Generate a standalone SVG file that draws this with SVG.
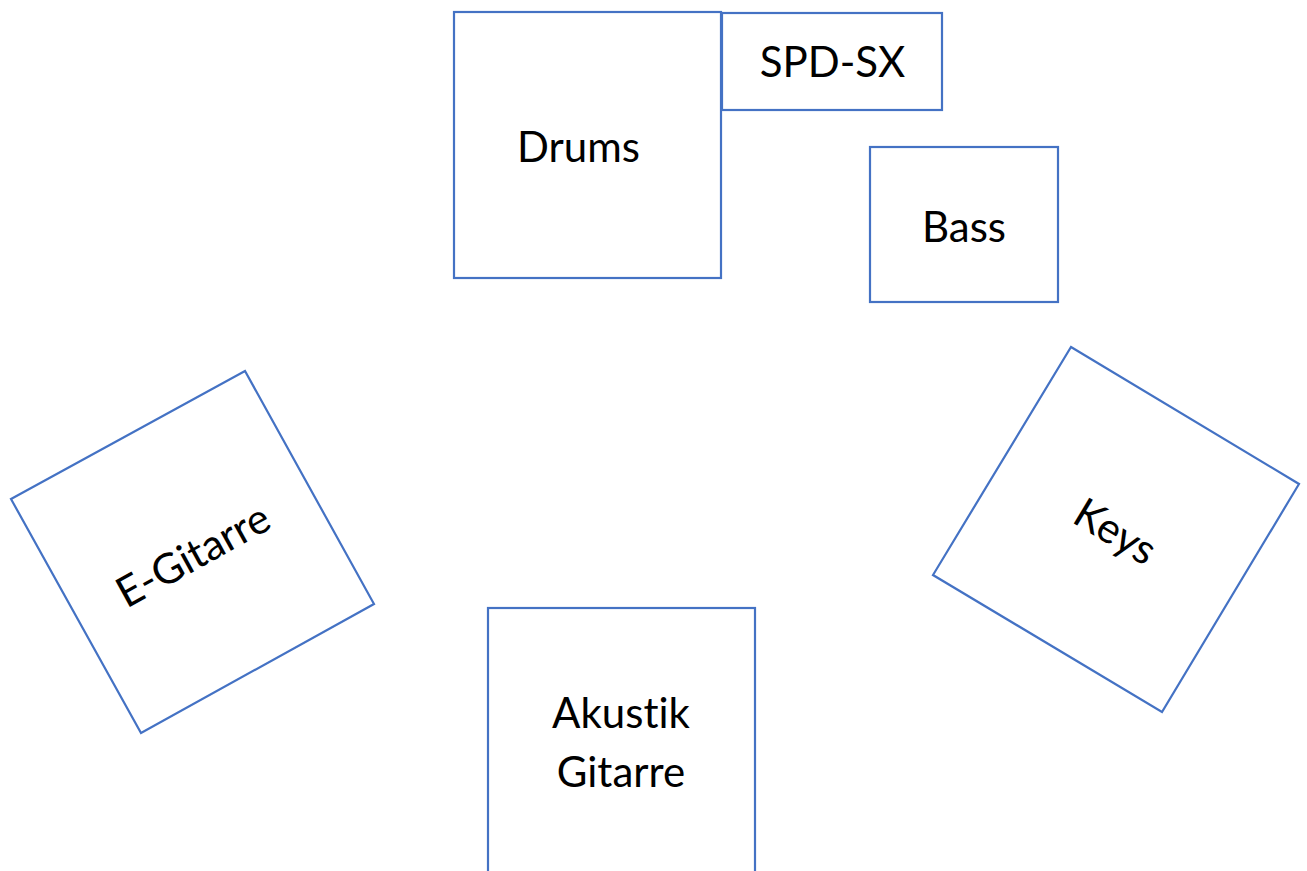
<svg xmlns="http://www.w3.org/2000/svg" width="1307" height="871" viewBox="0 0 1307 871">
<style>
.box{fill:#fff;stroke:#4472C4;stroke-width:2.2}
.lbl{font-family:Lato,"Open Sans",sans-serif;font-size:42px;fill:#000;text-anchor:middle;font-variant-ligatures:none;font-feature-settings:"liga" 0}
</style>
<rect width="1307" height="871" fill="#fff"/>
<g id="drums"><rect class="box" x="454" y="12" width="267" height="266"/><text class="lbl" x="578.5" y="162">Drums</text></g>
<g id="spdsx"><rect class="box" x="722" y="13" width="220" height="97"/><text class="lbl" x="832.5" y="77">SPD-SX</text></g>
<g id="bass"><rect class="box" x="870" y="147" width="188" height="155"/><text class="lbl" x="964" y="242">Bass</text></g>
<g id="egitarre"><polygon class="box" points="11,499 245,371 374,604 141,733"/><text class="lbl" transform="translate(200,568) rotate(-29)" x="0" y="0">E-Gitarre</text></g>
<g id="keys"><polygon class="box" points="1071,347 1299,484 1162,712 933,575"/><text class="lbl" transform="translate(1108,544) rotate(31)" x="0" y="0">Keys</text></g>
<g id="akustik"><rect class="box" x="488" y="608" width="267" height="300"/><text class="lbl" x="621" y="728">Akustik</text><text class="lbl" x="621" y="787">Gitarre</text></g>
<g id="connectors"></g>
</svg>
